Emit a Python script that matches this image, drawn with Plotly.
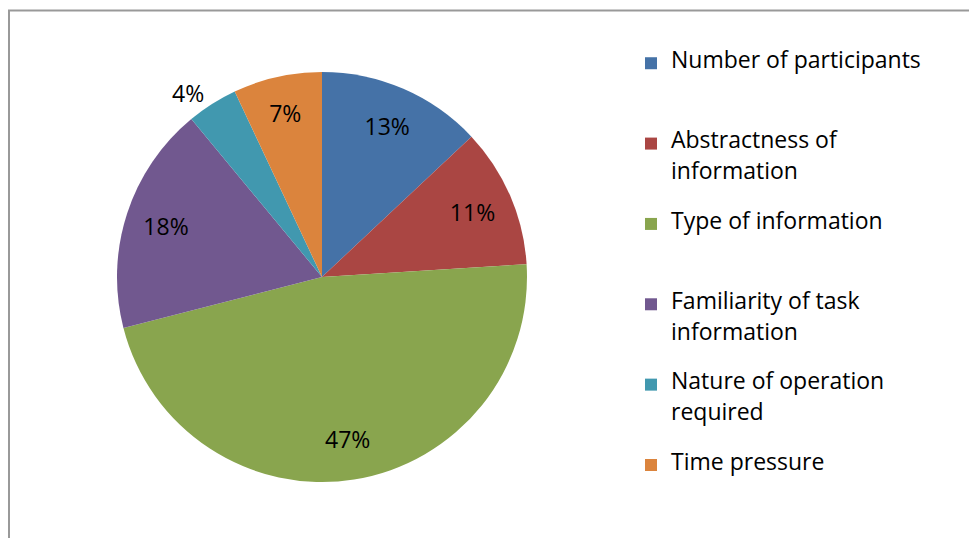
import plotly.graph_objects as go

categories = ["Number of participants", "Abstractness of information", "Type of information",
              "Familiarity of task information", "Nature of operation required", "Time pressure"]
legend_lines = [["Number of participants"], ["Abstractness of", "information"],
                ["Type of information"], ["Familiarity of task", "information"],
                ["Nature of operation", "required"], ["Time pressure"]]
values = [13, 11, 47, 18, 4, 7]
colors = ["#4572A7", "#AA4643", "#89A54E", "#71588F", "#4198AF", "#DB843D"]
text_positions = ["inside", "inside", "inside", "inside", "outside", "inside"]

BIG = 23


def legend_text(lines, last=False):
    first = "<span style='font-size:%dpx'>%s</span>" % (BIG, lines[0])
    if last:
        return first
    second = ("<span style='font-size:%dpx'>%s</span>" % (BIG, lines[1])) if len(lines) > 1 else " "
    # visible lines separated by blank spacer lines, plus trailing spacer
    return first + "<br> <br>" + second + "<br> <br> "


legend_labels = [legend_text(l, i == len(legend_lines) - 1) for i, l in enumerate(legend_lines)]

W, H = 969, 530
dom = dict(x=[109 / W, 519 / W], y=[1 - 474 / H, 1 - 64 / H])

fig = go.Figure()
fig.add_trace(go.Pie(
    labels=legend_labels,
    values=values,
    sort=False,
    direction="clockwise",
    rotation=0,
    marker=dict(colors=colors, line=dict(width=0)),
    textinfo="none",
    domain=dom,
    hovertext=categories,
    hoverinfo="text+percent",
))
fig.add_trace(go.Pie(
    labels=legend_labels,
    values=values,
    sort=False,
    direction="clockwise",
    rotation=0,
    hole=0.6,
    marker=dict(colors=["rgba(0,0,0,0)"] * len(values), line=dict(width=0)),
    texttemplate="%{percent:.0%}",
    textposition=text_positions,
    insidetextorientation="horizontal",
    textfont=dict(family="Open Sans", size=BIG, color="black"),
    domain=dom,
    showlegend=False,
    hoverinfo="skip",
))

fig.update_layout(
    width=W, height=H,
    margin=dict(l=0, r=0, t=0, b=0),
    paper_bgcolor="white",
    plot_bgcolor="white",
    font=dict(family="Open Sans", size=20, color="black"),
    legend=dict(x=623 / W, y=1 - 41 / H, xanchor="left", yanchor="top",
                valign="top", font=dict(family="Open Sans", size=11.9, color="black"),
                bgcolor="rgba(0,0,0,0)"),
    uniformtext=dict(minsize=BIG, mode="show"),
    shapes=[
        dict(type="line", xref="paper", yref="paper", x0=1 / W, x1=1 / W, y0=0, y1=1 - 2 / H,
             line=dict(color="#999999", width=2)),
        dict(type="line", xref="paper", yref="paper", x0=0, x1=1, y0=1 - 2.5 / H, y1=1 - 2.5 / H,
             line=dict(color="#999999", width=2)),
    ],
)

fig.write_html("out.html")
